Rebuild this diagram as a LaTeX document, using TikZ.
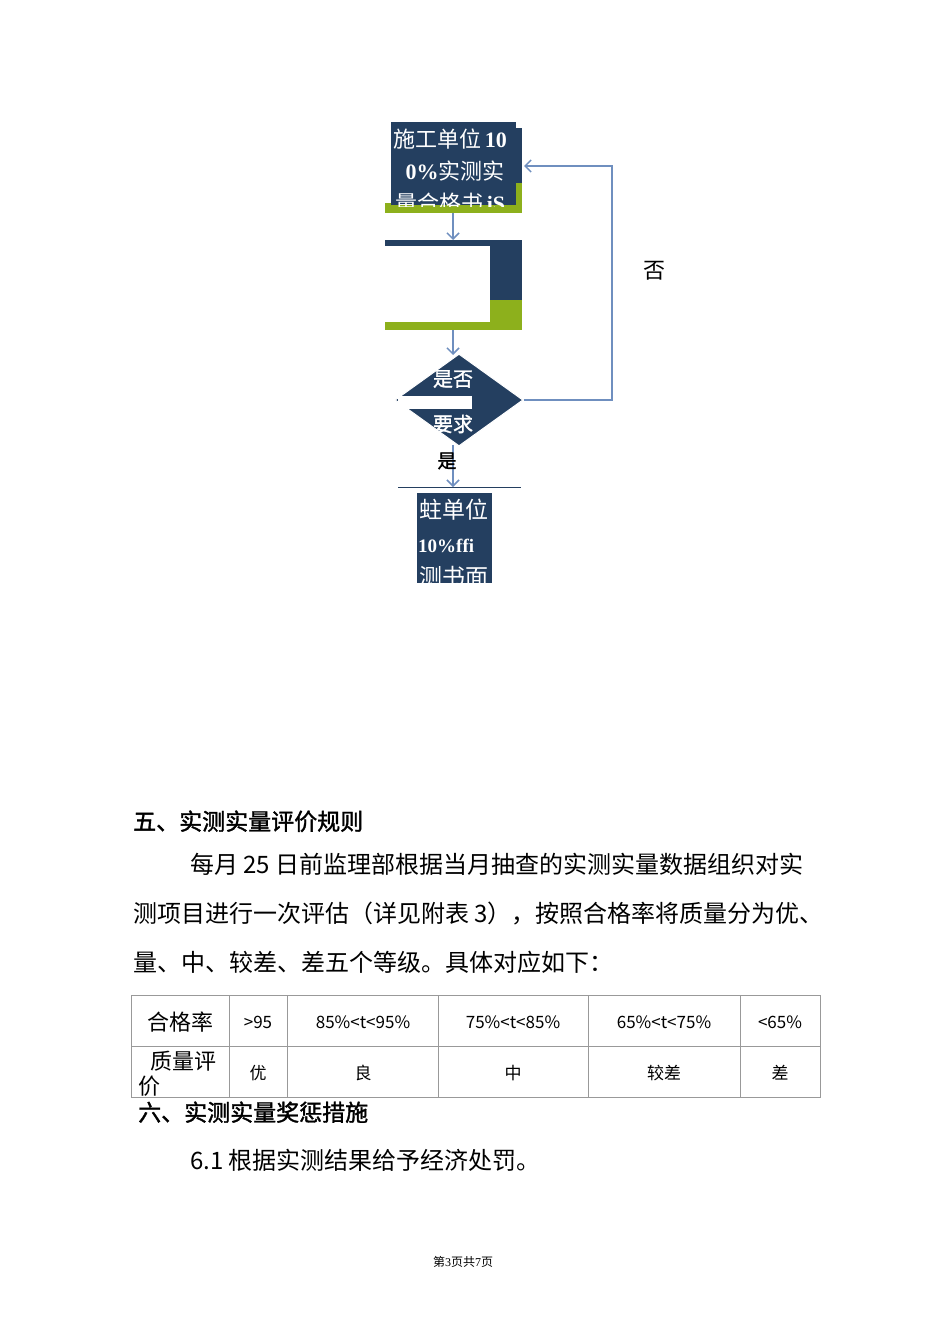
\documentclass[tikz,border=0pt]{standalone}
\usepackage{fontspec}
\setmainfont{Noto Sans CJK SC}
\newfontfamily\cjkb[FakeBold=1.5]{Noto Sans CJK SC}
\newfontfamily\tms{Liberation Serif}
\usetikzlibrary{arrows.meta,shapes.geometric}
\definecolor{navy}{HTML}{243F60}
\definecolor{grn}{HTML}{8DB01C}
\definecolor{flow}{HTML}{6F8FBF}
\begin{document}
\begin{tikzpicture}[x=1pt,y=-1pt,
  arr/.style={draw=flow,line width=1.5pt,-{Straight Barb[length=6pt,width=12pt]}},
  wt/.style={text=white,font=\fontsize{22}{24}\selectfont,inner sep=0},
  body/.style={anchor=base west,inner sep=0,font=\fontsize{24}{26}\selectfont},
  hd/.style={anchor=base west,inner sep=0,font=\fontsize{23}{24}\selectfont\cjkb},
  cell/.style={inner sep=0,font=\fontsize{17}{18}\selectfont}]
\useasboundingbox (0,0) rectangle (950,1344);
\fill[white] (0,0) rectangle (950,1344);
% box 1
\fill[grn] (385,203) rectangle (522,213);
\fill[grn] (516,183) rectangle (522,210);
\fill[navy] (391,122) rectangle (516,205);
\fill[navy] (516,128) rectangle (522,183);
\begin{scope}
\clip (391,122) rectangle (520,206);
\node[wt,anchor=base west] (b1a) at (393,147) {施工单位\,{\tms\bfseries 10}};
\node[wt,anchor=base] (b1b) at (455,179) {{\tms\bfseries 0\%}实测实};
\node[wt,anchor=base west] (b1c) at (395,211) {量合格书\,{\tms\bfseries iS}};
\end{scope}
\coordinate (b1) at (453,213);
% box 2
\fill[navy] (385,240) rectangle (522,300);
\fill[grn] (385,300) rectangle (522,330);
\fill[white] (385,246) rectangle (490,322);
\coordinate (b2t) at (453,240);
\coordinate (b2b) at (453,330);
\draw[arr] (b1) -- (b2t);
% diamond
\node[draw=white,line width=1pt,fill=navy,diamond,minimum width=128pt,minimum height=92pt,inner sep=0] (d) at (459,400) {};
\fill[white] (398,396) rectangle (472,409);
\node[wt,font=\fontsize{20}{22}\selectfont\cjkb] (dt1) at (453,379) {是否};
\node[wt,font=\fontsize{20}{22}\selectfont\cjkb] (dt3) at (453,424) {要求};
\draw[arr] (b2b) -- (453,355);
\coordinate (ln) at (453,487);
\draw[arr] (453,445) -- (ln);
\node[font=\fontsize{19}{20}\selectfont\cjkb,inner sep=0] (yes) at (447,461) {是};
\draw[navy,line width=0.8pt] (398,487) -- (521,487);
% box 3
\fill[navy] (417,493) rectangle (492,583);
\begin{scope}
\clip (417,493) rectangle (492,583);
\node[wt,font=\fontsize{23}{24}\selectfont,anchor=base] (b3a) at (454,518) {蛀单位};
\node[wt,font=\fontsize{19}{20}\selectfont\tms\bfseries,anchor=base west] (b3b) at (418,552) {10\%ffi};
\node[wt,font=\fontsize{23}{24}\selectfont,anchor=base] (b3c) at (454,585) {测书面};
\end{scope}
% feedback
\coordinate (c1) at (612,400);
\coordinate (c2) at (612,166);
\coordinate (c3) at (524,166);
\draw[arr] (d.east) -- (c1) -- (c2) -- (c3);
\node[font=\fontsize{22}{24}\selectfont,inner sep=0] (no) at (654,271) {否};
% text
\node[hd] (h5) at (133,830) {五、实测实量评价规则};
\node[body] (p1) at (190,873) {每月 25 日前监理部根据当月抽查的实测实量数据组织对实};
\node[body] (p2) at (133,922) {测项目进行一次评估（详见附表 3），按照合格率将质量分为优、};
\node[body] (p3) at (133,971) {量、中、较差、差五个等级。具体对应如下：};
% table
\draw[gray!80,line width=0.8pt] (131,995) rectangle (820,1097);
\draw[gray!80,line width=0.8pt] (131,1046) -- (820,1046);
\foreach \x in {229,287,438,588,740} \draw[gray!80,line width=0.8pt] (\x,995) -- (\x,1097);
\node[cell,font=\fontsize{22}{24}\selectfont] (t1) at (180,1022) {合格率};
\node[cell] (t2) at (258,1022) {>95};
\node[cell] (t3) at (363,1022) {85\%<t<95\%};
\node[cell] (t4) at (513,1022) {75\%<t<85\%};
\node[cell] (t5) at (664,1022) {65\%<t<75\%};
\node[cell] (t6) at (780,1022) {<65\%};
\node[cell,font=\fontsize{22}{24}\selectfont] (u1) at (183,1061) {质量评};
\node[cell,font=\fontsize{22}{24}\selectfont] (u1b) at (149,1086) {价};
\node[cell] (u2) at (258,1073) {优};
\node[cell] (u3) at (363,1073) {良};
\node[cell] (u4) at (513,1073) {中};
\node[cell] (u5) at (664,1073) {较差};
\node[cell] (u6) at (780,1073) {差};
\node[hd] (h6) at (138,1121) {六、实测实量奖惩措施};
\node[body] (p4) at (190,1169) {6.1 根据实测结果给予经济处罚。};
\node[inner sep=0,font=\fontsize{12}{14}\selectfont] (ft) at (463,1262) {第{\tms 3}页共{\tms 7}页};
\end{tikzpicture}
\end{document}
